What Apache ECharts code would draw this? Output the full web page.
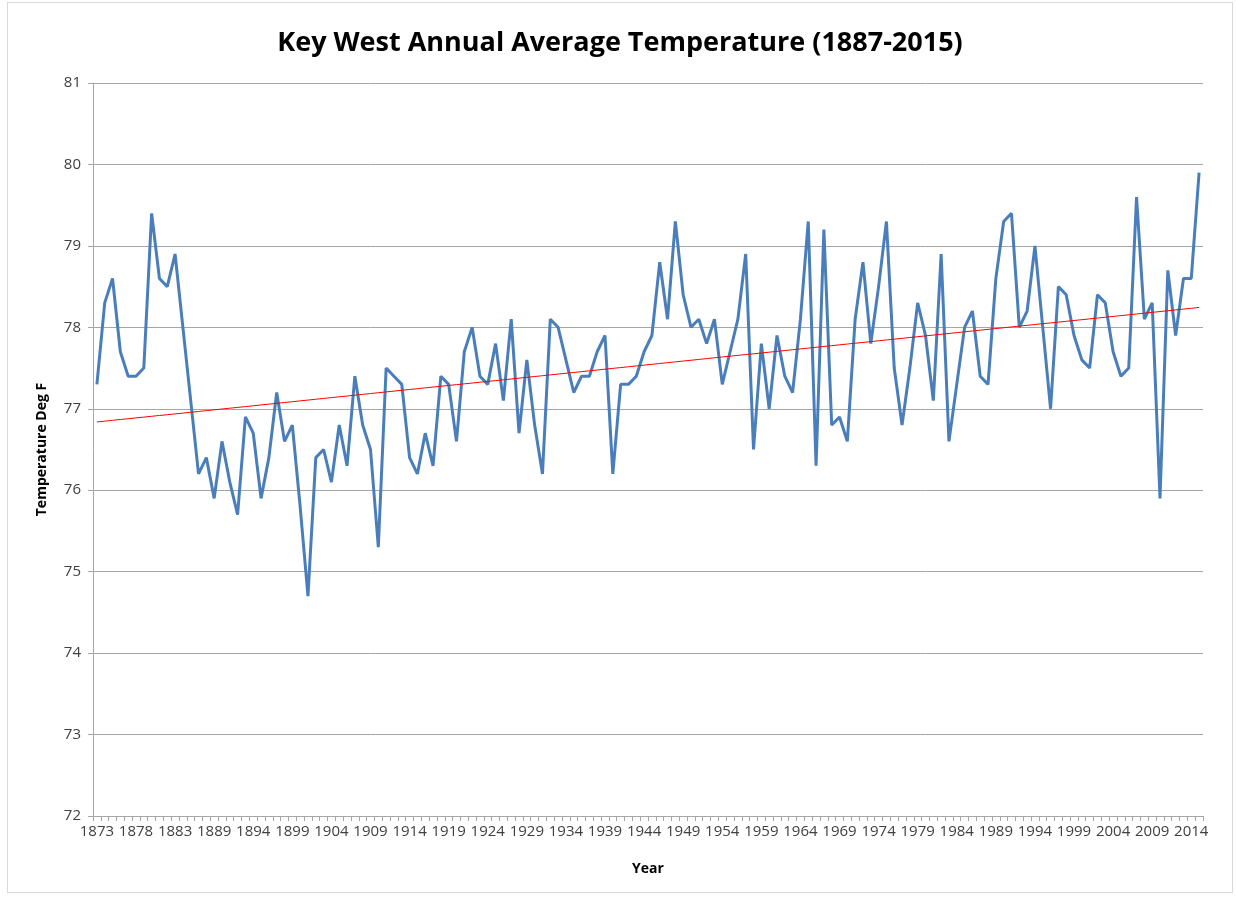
<!DOCTYPE html>
<html>
<head>
<meta charset="utf-8">
<script src="https://cdn.jsdelivr.net/npm/echarts@6/dist/echarts.min.js"></script>
<style>
  html, body { margin: 0; padding: 0; background: #fff; }
  #chart-box {
    position: absolute;
    left: 7px;
    top: 2px;
    width: 1226px;
    height: 891px;
    border: 1px solid #d9d9d9;
    box-sizing: border-box;
  }
  #drawKeyWest { width: 100%; height: 100%; }
</style>
</head>
<body>
<div id="chart-box"><div id="drawKeyWest"></div></div>
<script>
// years on the category axis (one year missing in the 1880s)
const firstYear = 1873;
const lastYear = 2015;
const missingYear = 1886;
const years = [];
for (let y = firstYear; y <= lastYear; y++) {
  if (y !== missingYear) years.push(String(y));
}

// annual average temperature, deg F
const temps1873 = [77.3, 78.3, 78.6, 77.7, 77.4, 77.4, 77.5, 79.4, 78.6, 78.5, 78.9, 78.0, 77.1, 76.2, 76.4, 75.9, 76.6, 76.1, 75.7, 76.9];
const temps1894 = [76.7, 75.9, 76.4, 77.2, 76.6, 76.8, 75.8, 74.7, 76.4, 76.5, 76.1, 76.8, 76.3, 77.4, 76.8, 76.5, 75.3, 77.5, 77.4, 77.3];
const temps1914 = [76.4, 76.2, 76.7, 76.3, 77.4, 77.3, 76.6, 77.7, 78.0, 77.4, 77.3, 77.8, 77.1, 78.1, 76.7, 77.6, 76.8, 76.2, 78.1, 78.0];
const temps1934 = [77.6, 77.2, 77.4, 77.4, 77.7, 77.9, 76.2, 77.3, 77.3, 77.4, 77.7, 77.9, 78.8, 78.1, 79.3, 78.4, 78.0, 78.1, 77.8, 78.1];
const temps1954 = [77.3, 77.7, 78.1, 78.9, 76.5, 77.8, 77.0, 77.9, 77.4, 77.2, 78.1, 79.3, 76.3, 79.2, 76.8, 76.9, 76.6, 78.1, 78.8, 77.8];
const temps1974 = [78.5, 79.3, 77.5, 76.8, 77.5, 78.3, 77.9, 77.1, 78.9, 76.6, 77.3, 78.0, 78.2, 77.4, 77.3, 78.6, 79.3, 79.4, 78.0, 78.2];
const temps1994 = [79.0, 78.0, 77.0, 78.5, 78.4, 77.9, 77.6, 77.5, 78.4, 78.3, 77.7, 77.4, 77.5, 79.6, 78.1, 78.3, 75.9, 78.7, 77.9, 78.6, 78.6, 79.9];
const temps = [].concat(temps1873, temps1894, temps1914, temps1934, temps1954, temps1974, temps1994);

// y axis
const yMin = 72;
const yMax = 81;
const yStep = 1;

// linear trend (least squares on category index, like the spreadsheet trendline)
function linearTrend(values) {
  const n = values.length;
  let sx = 0, sy = 0, sxy = 0, sxx = 0;
  values.forEach((v, i) => {
    const x = i + 1;
    sx += x; sy += v; sxy += x * v; sxx += x * x;
  });
  const slope = (n * sxy - sx * sy) / (n * sxx - sx * sx);
  const icpt = (sy - slope * sx) / n;
  return values.map((v, i) => +(icpt + slope * (i + 1)).toFixed(3));
}
const trend = linearTrend(temps);

const drawLine = echarts.init(document.getElementById("drawKeyWest"));
const font = "'Open Sans', 'Liberation Sans', sans-serif";
const option = {
  animation: false,
  textStyle: { fontFamily: font },
  title: {
    text: "Key West Annual Average Temperature (1887-2015)",
    left: "center",
    top: 22,
    textStyle: {
      fontFamily: font,
      fontSize: 27,
      fontWeight: "bold",
      color: "#000",
    },
  },
  grid: {
    left: 85,
    right: 29,
    top: 80,
    bottom: 76,
  },
  xAxis: {
    type: "category",
    data: years,
    boundaryGap: true,
    name: "Year",
    nameLocation: "middle",
    nameGap: 46,
    nameTextStyle: {
      fontFamily: font,
      fontSize: 14,
      fontWeight: "bold",
      color: "#000",
    },
    axisLine: {
      show: true,
      lineStyle: { color: "#a6a6a6", width: 1 },
    },
    axisTick: {
      show: true,
      interval: 0,
      length: 5,
      lineStyle: { color: "#a6a6a6" },
    },
    axisLabel: {
      interval: 4,
      margin: 8,
      fontSize: 15,
      color: "#404040",
      fontFamily: font,
    },
    splitLine: { show: false },
  },
  yAxis: {
    type: "value",
    min: yMin,
    max: yMax,
    interval: yStep,
    name: "Temperature Deg F",
    nameLocation: "middle",
    nameGap: 44,
    nameRotate: 90,
    nameTextStyle: {
      fontFamily: font,
      fontSize: 14,
      fontWeight: "bold",
      color: "#000",
    },
    axisLine: {
      show: true,
      lineStyle: { color: "#a6a6a6", width: 1 },
    },
    axisTick: {
      show: true,
      length: 5,
      lineStyle: { color: "#a6a6a6" },
    },
    axisLabel: {
      margin: 12,
      fontSize: 15,
      color: "#404040",
      fontFamily: font,
    },
    splitLine: {
      show: true,
      lineStyle: { color: "#a6a6a6", width: 1 },
    },
  },
  series: [
    {
      name: "Temperature",
      type: "line",
      data: temps,
      symbol: "none",
      smooth: false,
      lineStyle: { color: "#4a7ebb", width: 3 },
      z: 2,
    },
    {
      name: "Trend",
      type: "line",
      data: trend,
      symbol: "none",
      lineStyle: { color: "#ff0000", width: 1 },
      z: 3,
    },
  ],
};
drawLine.setOption(option);
window.addEventListener("resize", function () {
  drawLine.resize();
});
</script>
</body>
</html>
